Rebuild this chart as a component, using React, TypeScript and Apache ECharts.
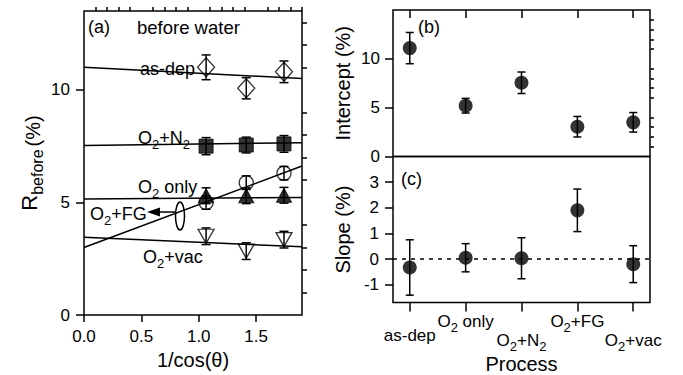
import React, { useEffect, useRef } from "react";
import * as echarts from "echarts";

// ---------- panel (a): reflectance before water vs 1/cos(theta) ----------
const xAngles = [1.064, 1.414, 1.743];
const asDepR = [11.0, 10.07, 10.8];
const asDepErr = [0.55, 0.47, 0.48];
const o2n2R = [7.5, 7.55, 7.6];
const o2n2Err = [0.38, 0.35, 0.37];
const o2onlyR = [5.3, 5.3, 5.32];
const o2onlyErr = [0.35, 0.35, 0.35];
const o2fgR = [5.0, 5.88, 6.3];
const o2fgErr = [0.3, 0.3, 0.3];
const o2vacR = [3.5, 2.84, 3.35];
const o2vacErr = [0.37, 0.37, 0.37];

// fitted lines, read at x = 0 and x = 1.9
const fitX = [0, 1.9];
const fitAsDep = [11.0, 10.5];
const fitO2N2 = [7.53, 7.65];
const fitO2only = [5.15, 5.22];
const fitO2FG = [3.0, 6.62];
const fitO2vac = [3.46, 3.03];

const aXMajor = [0, 0.5, 1.0, 1.5];
const aXMinor = [0.1, 0.2, 0.3, 0.4, 0.6, 0.7, 0.8, 0.9, 1.1, 1.2, 1.3, 1.4, 1.6, 1.7, 1.8, 1.9];
const aYMajor = [0, 5, 10];
const aYMinor = [1, 2, 3, 4, 6, 7, 8, 9, 11, 12, 13];

// ---------- panels (b) and (c): intercept / slope by process ----------
const processes = ["as-dep", "O2 only", "O2+N2", "O2+FG", "O2+vac"];
const processPos = [1, 2, 3, 4, 5];
const intercept = [11.1, 5.2, 7.55, 3.05, 3.5];
const interceptErr = [1.6, 0.75, 1.1, 1.05, 1.0];
const slope = [-0.33, 0.05, 0.03, 1.9, -0.2];
const slopeErr = [1.08, 0.55, 0.8, 0.83, 0.72];

const bYMajor = [0, 5, 10];
const bYMinor = [1, 2, 3, 4, 6, 7, 8, 9, 11, 12, 13, 14];
const cYTicks = [-1, 0, 1, 2, 3];

const FONT = '"Liberation Sans", Arial, Helvetica, sans-serif';

function withSub(name: string, base: string, s: string) {
  return name
    .split(/(2)/)
    .filter((t) => t !== "")
    .map((t) => (t === "2" ? `{${s}|2}` : `{${base}|${t}}`))
    .join("");
}

function errorSeries(
  xs: number[], ys: number[], errs: number[], xi: number, yi: number, cap: number
) {
  return {
    type: "custom",
    xAxisIndex: xi,
    yAxisIndex: yi,
    z: 2,
    silent: true,
    data: xs.map((x, i) => [x, ys[i] - errs[i], ys[i] + errs[i]]),
    encode: { x: 0, y: [1, 2] },
    renderItem: (_p: any, api: any) => {
      const x = api.value(0);
      const lo = api.coord([x, api.value(1)]);
      const hi = api.coord([x, api.value(2)]);
      const style = { stroke: "#000", lineWidth: 1.5, fill: "none" };
      return {
        type: "group",
        children: [
          { type: "line", shape: { x1: lo[0], y1: lo[1], x2: hi[0], y2: hi[1] }, style },
          { type: "line", shape: { x1: lo[0] - cap, y1: lo[1], x2: lo[0] + cap, y2: lo[1] }, style },
          { type: "line", shape: { x1: hi[0] - cap, y1: hi[1], x2: hi[0] + cap, y2: hi[1] }, style },
        ],
      };
    },
  };
}

function fitSeries(ys: number[]) {
  return {
    type: "line",
    xAxisIndex: 0,
    yAxisIndex: 0,
    z: 1,
    silent: true,
    symbol: "none",
    lineStyle: { color: "#000", width: 1.5 },
    data: fitX.map((x, i) => [x, ys[i]]),
  };
}

function pointSeries(
  ys: number[], symbol: string, size: any, filled: boolean, rotate = 0
) {
  return {
    type: "scatter",
    xAxisIndex: 0,
    yAxisIndex: 0,
    z: 3,
    silent: true,
    symbol,
    symbolSize: size,
    symbolRotate: rotate,
    itemStyle: filled
      ? { color: "#000", borderColor: "#000", borderWidth: 1 }
      : { color: "rgba(0,0,0,0)", borderColor: "#000", borderWidth: 1.3 },
    data: xAngles.map((x, i) => [x, ys[i]]),
  };
}

const tickLbl = { color: "#000", fontFamily: FONT, fontSize: 17 };

export default function App() {
  const ref = useRef<HTMLDivElement>(null);

  useEffect(() => {
    if (!ref.current) return;
    const chart = echarts.init(ref.current, undefined, { renderer: "svg" });

    const gridFrame = {
      show: true,
      borderColor: "#000",
      borderWidth: 1.5,
      backgroundColor: "rgba(0,0,0,0)",
      containLabel: false,
    };

    const noLine = { show: false, onZero: false };
    const tickStyle = { color: "#000", width: 1.5 };

    const procRich = {
      h: { fontSize: 17, fontFamily: FONT, color: "#000", lineHeight: 30 },
      hs: { fontSize: 13, fontFamily: FONT, color: "#000", lineHeight: 30, padding: [12, 0, 0, 0] },
      m: { fontSize: 17, fontFamily: FONT, color: "#000", lineHeight: 57 },
      l: { fontSize: 17, fontFamily: FONT, color: "#000", lineHeight: 68 },
      ls: { fontSize: 13, fontFamily: FONT, color: "#000", lineHeight: 68, padding: [12, 0, 0, 0] },
    };

    const annRich = {
      t: { fontSize: 18, fontFamily: FONT, color: "#000" },
      s: { fontSize: 13, fontFamily: FONT, color: "#000", padding: [12, 0, 0, 0] },
    };

    const ann = (name: string, x: number, y: number) => ({
      type: "text",
      x,
      y,
      silent: true,
      style: {
        text: withSub(name, "t", "s"),
        rich: annRich,
        verticalAlign: "middle",
        align: "left",
        fill: "#000",
      },
    });

    const option: any = {
      animation: false,
      backgroundColor: "#fff",
      textStyle: { fontFamily: FONT, color: "#000" },
      grid: [
        { ...gridFrame, left: 84, top: 11, width: 218, height: 309 },
        { ...gridFrame, left: 393, top: 10, width: 257, height: 146.5 },
        { ...gridFrame, left: 393, top: 156.5, width: 257, height: 147.5 },
      ],
      xAxis: [
        {
          gridIndex: 0, type: "value", min: 0, max: 1.9,
          axisLine: noLine, splitLine: { show: false },
          axisTick: { show: true, length: 7, customValues: aXMajor, lineStyle: tickStyle },
          axisLabel: {
            ...tickLbl, margin: 13, customValues: aXMajor,
            formatter: (v: number) => v.toFixed(1),
          },
          name: "1/cos(θ)", nameLocation: "middle", nameGap: 34,
          nameTextStyle: { fontSize: 20, fontFamily: FONT, color: "#000" },
        },
        {
          gridIndex: 0, type: "value", min: 0, max: 1.9,
          axisLine: noLine, splitLine: { show: false },
          axisTick: { show: true, length: 4, customValues: aXMinor, lineStyle: tickStyle },
          axisLabel: { show: false },
        },
        {
          gridIndex: 1, type: "value", min: 0.7, max: 5.3,
          axisLine: noLine, splitLine: { show: false },
          axisTick: { show: false }, axisLabel: { show: false },
        },
        {
          gridIndex: 1, type: "value", min: 0.7, max: 5.3, position: "top",
          axisLine: noLine, splitLine: { show: false },
          axisTick: { show: true, inside: true, length: 8, customValues: processPos, lineStyle: tickStyle },
          axisLabel: { show: false },
        },
        {
          gridIndex: 2, type: "value", min: 0.7, max: 5.3,
          axisLine: noLine, splitLine: { show: false },
          axisTick: { show: true, length: 9, customValues: processPos, lineStyle: tickStyle },
          axisLabel: {
            ...tickLbl, margin: 4, customValues: processPos,
            rich: procRich,
            formatter: (v: number) => {
              const i = processPos.indexOf(v);
              if (i < 0) return "";
              const name = processes[i];
              if (i === 0) return `{m|${name}}`;
              return i % 2 === 1 ? withSub(name, "h", "hs") : withSub(name, "l", "ls");
            },
          },
          name: "Process", nameLocation: "middle", nameGap: 40,
          nameTextStyle: { fontSize: 20, fontFamily: FONT, color: "#000" },
        },
      ],
      yAxis: [
        {
          gridIndex: 0, type: "value", min: 0, max: 13.5,
          axisLine: noLine, splitLine: { show: false },
          axisTick: { show: true, length: 8, customValues: aYMajor, lineStyle: tickStyle },
          axisLabel: { ...tickLbl, margin: 14, customValues: aYMajor },
          name: "{R|R}{s|before}{p|(%)}", nameLocation: "middle", nameGap: 39, nameRotate: 90,
          nameTextStyle: {
            color: "#000",
            rich: {
              R: { fontSize: 22, fontFamily: FONT, color: "#000" },
              s: { fontSize: 16, fontFamily: FONT, color: "#000", padding: [16, 3, 0, 0] },
              p: { fontSize: 20, fontFamily: FONT, color: "#000", padding: [8, 0, 0, 0] },
            },
          },
        },
        {
          gridIndex: 0, type: "value", min: 0, max: 13.5,
          axisLine: noLine, splitLine: { show: false },
          axisTick: { show: true, length: 5, customValues: aYMinor, lineStyle: tickStyle },
          axisLabel: { show: false },
        },
        {
          gridIndex: 1, type: "value", min: 0, max: 15,
          axisLine: noLine, splitLine: { show: false },
          axisTick: { show: true, length: 8, customValues: bYMajor, lineStyle: tickStyle },
          axisLabel: { ...tickLbl, margin: 13, customValues: bYMajor },
          name: "Intercept (%)", nameLocation: "middle", nameGap: 40,
          nameTextStyle: { fontSize: 20, fontFamily: FONT, color: "#000" },
        },
        {
          gridIndex: 1, type: "value", min: 0, max: 15,
          axisLine: noLine, splitLine: { show: false },
          axisTick: { show: true, length: 4, customValues: bYMinor, lineStyle: tickStyle },
          axisLabel: { show: false },
        },
        {
          gridIndex: 2, type: "value", min: -1.7, max: 4,
          axisLine: noLine, splitLine: { show: false },
          axisTick: { show: true, length: 8, customValues: cYTicks, lineStyle: tickStyle },
          axisLabel: { ...tickLbl, margin: 14, customValues: cYTicks },
          name: "Slope (%)", nameLocation: "middle", nameGap: 40,
          nameTextStyle: { fontSize: 20, fontFamily: FONT, color: "#000" },
        },
      ],
      series: [
        fitSeries(fitAsDep),
        fitSeries(fitO2N2),
        fitSeries(fitO2only),
        fitSeries(fitO2FG),
        fitSeries(fitO2vac),
        errorSeries(xAngles, asDepR, asDepErr, 0, 0, 4.5),
        errorSeries(xAngles, o2n2R, o2n2Err, 0, 0, 4.5),
        errorSeries(xAngles, o2onlyR, o2onlyErr, 0, 0, 4.5),
        errorSeries(xAngles, o2fgR, o2fgErr, 0, 0, 4.5),
        errorSeries(xAngles, o2vacR, o2vacErr, 0, 0, 4.5),
        pointSeries(asDepR, "diamond", [17, 19], false),
        pointSeries(o2n2R, "rect", 14, true),
        pointSeries(o2onlyR, "triangle", [15, 14], true),
        pointSeries(o2fgR, "circle", 14, false),
        pointSeries(o2vacR, "triangle", [16, 14], false, 180),
        errorSeries(processPos, intercept, interceptErr, 3, 2, 4),
        {
          type: "scatter", xAxisIndex: 3, yAxisIndex: 2, z: 3, silent: true,
          symbol: "circle", symbolSize: 14,
          itemStyle: { color: "#000" },
          data: processPos.map((x, i) => [x, intercept[i]]),
        },
        errorSeries(processPos, slope, slopeErr, 4, 4, 4),
        {
          type: "scatter", xAxisIndex: 4, yAxisIndex: 4, z: 3, silent: true,
          symbol: "circle", symbolSize: 14,
          itemStyle: { color: "#000" },
          data: processPos.map((x, i) => [x, slope[i]]),
          markLine: {
            silent: true, symbol: "none", label: { show: false },
            lineStyle: { type: [4, 5], color: "#000", width: 1.5 },
            data: [{ yAxis: 0 }],
          },
        },
      ],
      graphic: [
        {
          type: "text", x: 88, y: 27, silent: true,
          style: { text: "(a)", fontSize: 18, fontFamily: FONT, fill: "#000", verticalAlign: "middle" },
        },
        {
          type: "text", x: 137, y: 27, silent: true,
          style: { text: "before water", fontSize: 18.5, fontFamily: FONT, fill: "#000", verticalAlign: "middle" },
        },
        {
          type: "text", x: 418, y: 27, silent: true,
          style: { text: "(b)", fontSize: 18, fontFamily: FONT, fill: "#000", verticalAlign: "middle" },
        },
        {
          type: "text", x: 401, y: 179, silent: true,
          style: { text: "(c)", fontSize: 18, fontFamily: FONT, fill: "#000", verticalAlign: "middle" },
        },
        ann(processes[0], 140, 69),
        ann(processes[2], 138, 138),
        ann(processes[1], 138, 187),
        ann(processes[3], 90, 214),
        ann(processes[4], 143, 257),
        {
          type: "ellipse", silent: true,
          shape: { cx: 180, cy: 216, rx: 4.5, ry: 14 },
          style: { fill: "none", stroke: "#000", lineWidth: 1.5 },
        },
        {
          type: "line", silent: true,
          shape: { x1: 175.5, y1: 212, x2: 158, y2: 212 },
          style: { stroke: "#000", lineWidth: 1.5 },
        },
        {
          type: "polygon", silent: true,
          shape: { points: [[147, 212], [160, 207.5], [160, 216.5]] },
          style: { fill: "#000" },
        },
      ],
    };

    chart.setOption(option);
    return () => chart.dispose();
  }, []);

  return (
    <div
      ref={ref}
      style={{ position: "fixed", left: 0, top: 0, width: 683, height: 375, background: "#fff" }}
    />
  );
}
